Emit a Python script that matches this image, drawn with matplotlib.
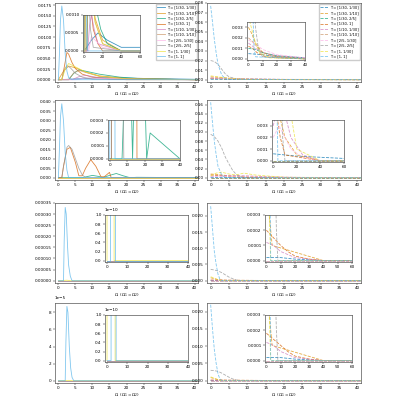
import matplotlib.pyplot as plt
from matplotlib.ticker import MultipleLocator

LABELS = ["T = [1/30, 1/30]", "T = [1/30, 1/10]", "T = [1/30, 2/5]", "T = [1/30, 1]",
          "T = [1/10, 1/30]", "T = [1/10, 1/10]", "T = [2/5, 1/30]", "T = [2/5, 2/5]",
          "T = [1, 1/30]", "T = [1, 1]"]
COLORS = ["#0173b2", "#de8f05", "#029e73", "#d55e00", "#cc78bc",
          "#ca9161", "#fbafe4", "#949494", "#ece133", "#56b4e9"]

# curve index -> (x list, y list)
P1 = {
    0: ([0, 3, 8, 15, 25, 40], [0, 0.0001, 0.0003, 0.0005, 0.0003, 0.0001]),
    1: ([0, 1.5, 3, 5, 8, 12, 20, 40], [0, 0.002, 0.0032, 0.0028, 0.0018, 0.0009, 0.0003, 0]),
    2: ([0, 3, 4.5, 6, 8, 12, 18, 25, 40], [0, 0, 0.0015, 0.0023, 0.002, 0.0013, 0.0006, 0.0002, 0]),
    3: ([0, 1, 1.5, 2.5, 3, 4, 5, 7, 10, 15, 20, 40], [0, 0, 0.002, 0.0064, 0.006, 0.004, 0.0026, 0.0013, 0.0006, 0.0002, 0, 0]),
    4: ([0, 4, 6, 8, 11, 15, 40], [0, 0, 0.0007, 0.001, 0.0006, 0.0002, 0]),
    5: ([0, 3, 4.5, 6, 8, 12, 20, 40], [0, 0, 0.0016, 0.0022, 0.0017, 0.0008, 0.0002, 0]),
    6: ([0, 5, 8, 12, 20, 40], [0, 0, 0.0004, 0.0003, 0.0001, 0]),
    7: ([0, 1, 1.8, 2.5, 3.5, 5, 7, 10, 40], [0, 0, 0.0025, 0.0033, 0.0028, 0.0015, 0.0006, 0.0001, 0]),
    8: ([0, 1, 2, 3, 5, 8, 12, 20, 40], [0, 0, 0.0025, 0.0038, 0.003, 0.0018, 0.0008, 0.0002, 0]),
    9: ([0, 0.3, 0.6, 1, 1.5, 2, 2.5, 3, 4, 40], [0, 0.006, 0.014, 0.0173, 0.014, 0.006, 0.002, 0.0005, 0, 0]),
}
P2 = {
    0: ([0, 10, 20, 40], [0.0005, 0.0004, 0.0002, 0.0001]),
    1: ([0, 2, 5, 10, 20, 40], [0.003, 0.0025, 0.0015, 0.0006, 0.0002, 0]),
    2: ([0, 5, 10, 20, 40], [0.001, 0.0009, 0.0006, 0.0003, 0.0001]),
    3: ([0, 3, 6, 12, 20, 40], [0.0012, 0.001, 0.0006, 0.0002, 0.0001, 0]),
    4: ([0, 5, 10, 20, 40], [0.0015, 0.001, 0.0006, 0.0003, 0.0001]),
    5: ([0, 4, 8, 15, 40], [0.002, 0.0015, 0.0008, 0.0003, 0]),
    6: ([0, 5, 10, 20, 40], [0.0018, 0.0014, 0.0009, 0.0004, 0.0001]),
    7: ([0, 1, 2, 3, 4, 5, 7, 10, 40], [0.02, 0.019, 0.016, 0.011, 0.006, 0.003, 0.001, 0.0002, 0]),
    8: ([0, 2, 5, 8, 15, 40], [0.004, 0.003, 0.0015, 0.0006, 0.0001, 0]),
    9: ([0, 0.5, 1, 1.5, 2, 3, 4, 5, 40], [0.077, 0.06, 0.042, 0.028, 0.016, 0.005, 0.001, 0.0002, 0]),
}
P3 = {
    2: ([0, 7, 9, 10, 12, 13, 15, 17, 19, 21, 23, 40], [0, 0, 0.0008, 0.0012, 0.0006, 0, 0.0012, 0.0022, 0.001, 0, 0.0002, 0]),
    3: ([0, 1, 1.5, 2.5, 3.5, 5, 6, 7, 8, 9.5, 11, 12.5, 13.5, 15, 15.5, 40],
        [0, 0, 0.006, 0.015, 0.016, 0.008, 0.001, 0.001, 0.005, 0.0095, 0.006, 0.0005, 0.0005, 0.0028, 0, 0]),
    7: ([0, 1, 1.5, 2.5, 3, 4, 5, 6, 7, 8, 40], [0, 0, 0.006, 0.016, 0.017, 0.015, 0.01, 0.005, 0.0015, 0, 0]),
    9: ([0, 0.3, 0.6, 1, 1.5, 2, 2.5, 3, 40], [0, 0.015, 0.032, 0.039, 0.03, 0.013, 0.004, 0, 0]),
}
P4 = {
    0: ([0, 10, 20, 40, 60], [0.0006, 0.0005, 0.0004, 0.0003, 0.0002]),
    1: ([0, 2, 5, 10, 20, 40], [0.008, 0.007, 0.004, 0.002, 0.0005, 0]),
    3: ([0, 3, 6, 10, 40], [0.006, 0.004, 0.002, 0.0005, 0]),
    4: ([0, 5, 10, 15, 25, 40], [0.003, 0.005, 0.004, 0.002, 0.0005, 0]),
    6: ([0, 5, 10, 15, 25, 40], [0.002, 0.003, 0.002, 0.001, 0.0003, 0]),
    7: ([0, 1, 2, 3, 4, 5, 6, 7, 8, 10, 40], [0.095, 0.09, 0.08, 0.065, 0.045, 0.03, 0.016, 0.007, 0.002, 0, 0]),
    8: ([0, 1.5, 3, 5, 7, 9, 12, 15, 20, 40], [0.004, 0.01, 0.012, 0.008, 0.006, 0.01, 0.006, 0.004, 0.001, 0]),
    9: ([0, 0.5, 1, 1.5, 2, 3, 4, 40], [0.165, 0.12, 0.08, 0.05, 0.025, 0.006, 0, 0]),
}
P5 = {
    8: ([0, 1.5, 2.5, 3.5, 40], [0, 0.000001, 0.000002, 0, 0]),
    9: ([0, 1.5, 1.7, 2, 2.3, 2.7, 3, 3.5, 4, 40], [0, 0, 0.00018, 0.00033, 0.0003, 0.00015, 0.00007, 0.00002, 0, 0]),
}
P6 = {
    0: ([0, 10, 20, 40], [0.00002, 0.00002, 0.00001, 0]),
    1: ([0, 1, 2, 4, 40], [0.0009, 0.0006, 0.0003, 0.0001, 0]),
    3: ([0, 5, 10, 15, 20, 30, 40], [0.0002, 0.00015, 0.0001, 0.00006, 0.00003, 0.00001, 0]),
    4: ([0, 5, 10, 20, 40], [0.00012, 0.0001, 0.00006, 0.00002, 0]),
    7: ([0, 1, 2, 3, 4, 5, 6, 7, 8, 40], [0.0035, 0.0033, 0.003, 0.0025, 0.0018, 0.0011, 0.0006, 0.0002, 0, 0]),
    8: ([0, 1, 2, 3, 40], [0.0012, 0.0008, 0.0003, 0, 0]),
    9: ([0, 0.5, 1, 1.5, 2, 2.5, 3, 40], [0.023, 0.016, 0.009, 0.005, 0.002, 0.0005, 0, 0]),
}
P7 = {
    8: ([0, 2, 3, 4, 40], [0, 0.0000001, 0.0000003, 0, 0]),
    9: ([0, 2, 2.2, 2.5, 2.8, 3.2, 3.6, 4, 4.5, 40], [0, 0, 0.000045, 0.000087, 0.00008, 0.00004, 0.000015, 0.000004, 0, 0]),
}
P8 = {
    0: ([0, 10, 20, 40], [0.00002, 0.00002, 0.00001, 0]),
    1: ([0, 1, 2, 4, 40], [0.0009, 0.0006, 0.0003, 0.0001, 0]),
    3: ([0, 5, 10, 15, 20, 30, 40], [0.00018, 0.00014, 0.0001, 0.00006, 0.00003, 0.00001, 0]),
    4: ([0, 5, 10, 20, 40], [0.00012, 0.0001, 0.00006, 0.00002, 0]),
    7: ([0, 1, 2, 3, 4, 5, 6, 7, 8, 40], [0.003, 0.0029, 0.0027, 0.0022, 0.0016, 0.001, 0.0005, 0.0002, 0, 0]),
    8: ([0, 1, 2, 3, 40], [0.0011, 0.0007, 0.0003, 0, 0]),
    9: ([0, 0.5, 1, 1.5, 2, 2.5, 3, 40], [0.022, 0.015, 0.009, 0.005, 0.002, 0.0005, 0, 0]),
}

FS = 3.0
XLABEL = r"$\Omega$  ($\Omega_1 = \Omega_2$)"


def style(ax):
    ax.tick_params(labelsize=FS, length=1.5, width=0.3, pad=1)
    for s in ax.spines.values():
        s.set_linewidth(0.5)
        s.set_color("#555555")
    ax.yaxis.get_offset_text().set_fontsize(FS)


def draw(ax, curves, ls, alpha=0.75, lw=0.6, legend=False):
    for i in range(10):
        if i in curves:
            x, y = list(curves[i][0]), list(curves[i][1])
            if x[-1] < 60:
                x.append(60)
                y.append(y[-1])
        else:
            x, y = [0, 60], [0, 0]
        ax.plot(x, y, ls=ls, color=COLORS[i], lw=lw, alpha=alpha, label=LABELS[i])
    if legend:
        ax.legend(fontsize=2.6, loc="upper right", handlelength=2.2, labelspacing=0.4,
                  borderpad=0.4, handletextpad=0.5, framealpha=1, edgecolor="#cccccc",
                  borderaxespad=0.3)


fig = plt.figure(figsize=(4, 4), dpi=100)

# axes boxes in figure pixels (left, top, right, bottom)
MAIN = [(55, 3, 198, 82), (207, 3, 361, 82), (55, 100, 198, 180), (207, 100, 361, 180),
        (55, 203, 198, 283), (207, 203, 361, 283), (55, 303, 198, 383), (207, 303, 361, 383)]
INSET = [(83, 15, 140, 52), (247, 22, 305, 60), (108, 120, 180, 160), (272, 120, 344, 162),
         (105, 215, 188, 262), (265, 215, 352, 262), (105, 315, 188, 362), (265, 315, 352, 362)]
DATA = [P1, P2, P3, P4, P5, P6, P7, P8]
YMAX = [0.018, 0.08, 0.041, 0.17, 0.00035, 0.024, 0.000091, 0.0225]
YSTEP = [0.0025, 0.01, 0.005, 0.02, 0.00005, 0.005, 0.00002, 0.005]
INX = [60, 40, 40, 60, 40, 60, 40, 60]
INXSTEP = [20, 10, 10, 20, 10, 10, 10, 10]
INY = [0.001, 0.0035, 0.0003, 0.0035, 1e-10, 0.0003, 1e-10, 0.0003]
INSTEP = [0.0005, 0.001, 0.0001, 0.001, 0.2e-10, 0.0001, 0.2e-10, 0.0001]


def frac(box):
    l, t, r, b = box
    return [l / 400, 1 - b / 400, (r - l) / 400, (b - t) / 400]


for k in range(8):
    ls = "-" if k % 2 == 0 else "--"
    ax = fig.add_axes(frac(MAIN[k]))
    draw(ax, DATA[k], ls, legend=(k < 2))
    ax.set_xlim(-1, 41)
    ax.set_ylim(-YMAX[k] * 0.03, YMAX[k])
    ax.xaxis.set_major_locator(MultipleLocator(5))
    ax.yaxis.set_major_locator(MultipleLocator(YSTEP[k]))
    ax.set_xlabel(XLABEL, fontsize=FS, labelpad=1)
    style(ax)
    if k == 6:
        ax.ticklabel_format(axis="y", style="sci", scilimits=(0, 0))

    ins = fig.add_axes(frac(INSET[k]))
    draw(ins, DATA[k], ls)
    ins.set_xlim(-1, INX[k])
    ins.set_ylim(-INY[k] * 0.03, INY[k])
    ins.xaxis.set_major_locator(MultipleLocator(INXSTEP[k]))
    ins.yaxis.set_major_locator(MultipleLocator(INSTEP[k]))
    style(ins)
    if k in (4, 6):
        ins.ticklabel_format(axis="y", style="sci", scilimits=(0, 0))

fig.savefig("out.png", dpi=100)
